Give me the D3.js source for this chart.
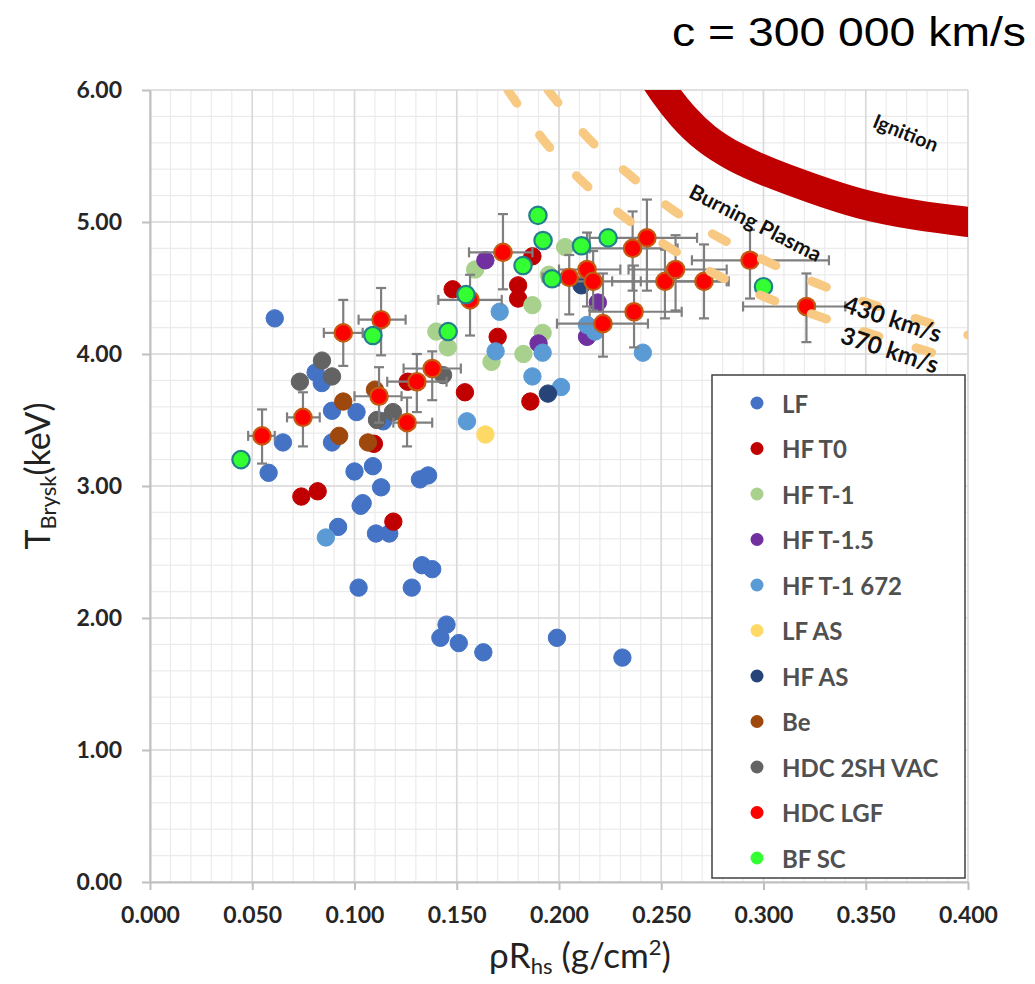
<!DOCTYPE html>
<html>
<head>
<meta charset="utf-8">
<script src="https://cdn.jsdelivr.net/npm/d3@7"></script>
<style>
  body { margin: 0; background: #fff; }
  svg { display: block; }
</style>
</head>
<body>
<svg id="chart" width="1035" height="984"></svg>
<script>
// ---- data ----
var seriesNames = ["LF", "HF T0", "HF T-1", "HF T-1.5", "HF T-1 672", "LF AS", "HF AS", "Be", "HDC 2SH VAC", "HDC LGF", "BF SC"];
var seriesFill = ["#4472c4", "#c00000", "#a9d18e", "#7030a0", "#5b9bd5", "#ffd966", "#264478", "#9e480e", "#636363", "#ff0000", "#33ff33"];

var lf = [[0.061,4.27],[0.081,3.86],[0.084,3.78],[0.089,3.57],[0.089,3.33],[0.065,3.33],[0.058,3.10],
  [0.101,3.56],[0.114,3.49],[0.100,3.11],[0.109,3.15],[0.113,2.99],[0.103,2.85],[0.104,2.87],
  [0.092,2.69],[0.1105,2.64],[0.117,2.64],[0.102,2.23],[0.128,2.23],[0.133,2.40],[0.138,2.37],
  [0.132,3.05],[0.136,3.08],[0.145,1.95],[0.142,1.85],[0.151,1.81],[0.163,1.74],[0.199,1.85],[0.231,1.70]];
var hfT0 = [[0.074,2.92],[0.082,2.96],[0.119,2.73],[0.1095,3.32],[0.126,3.79],[0.154,3.71],[0.186,3.64],
  [0.170,4.13],[0.180,4.42],[0.180,4.52],[0.148,4.49],[0.187,4.74]];
var hfT1 = [[0.159,4.64],[0.187,4.37],[0.140,4.17],[0.1456,4.05],[0.192,4.16],[0.167,3.94],[0.1826,4.00],
  [0.203,4.81],[0.195,4.60]];
var hfT15 = [[0.164,4.71],[0.190,4.08],[0.219,4.39],[0.2137,4.13]];
var hfT1672 = [[0.171,4.32],[0.169,4.02],[0.192,4.01],[0.187,3.83],[0.201,3.75],[0.155,3.49],[0.086,2.61],
  [0.2137,4.22],[0.2176,4.17],[0.241,4.01]];
var lfAS = [[0.164,3.39]];
var hfAS = [[0.1946,3.70],[0.211,4.52]];
var be = [[0.0945,3.64],[0.110,3.73],[0.0925,3.38],[0.1066,3.33]];
var hdc2sh = [[0.0841,3.95],[0.0733,3.79],[0.089,3.83],[0.1433,3.84],[0.111,3.50],[0.1188,3.56]];
// HDC LGF: x, y, x low, x high, y low, y high
var hdcLgf = [
  [0.0548,3.38,0.048,0.061,3.17,3.58],[0.0748,3.52,0.067,0.083,3.30,3.71],
  [0.0945,4.16,0.085,0.104,3.91,4.41],[0.113,4.26,0.102,0.125,3.99,4.50],
  [0.112,3.68,0.100,0.123,3.48,3.90],[0.1257,3.48,0.119,0.138,3.30,3.67],
  [0.1305,3.79,0.116,0.145,3.56,4.00],[0.138,3.89,0.124,0.152,3.65,4.02],
  [0.1565,4.41,0.141,0.172,4.14,4.60],[0.1726,4.77,0.156,0.187,4.49,5.06],
  [0.205,4.58,0.192,0.216,4.30,4.75],[0.2137,4.64,0.200,0.230,4.36,4.92],
  [0.2167,4.55,0.200,0.240,4.33,4.78],[0.2215,4.23,0.199,0.2435,3.98,4.61],
  [0.236,4.80,0.215,0.258,4.48,5.08],[0.243,4.88,0.215,0.2675,4.48,5.17],
  [0.2367,4.32,0.215,0.260,4.05,4.67],[0.2518,4.55,0.226,0.283,4.27,4.79],
  [0.257,4.64,0.234,0.282,4.33,4.90],[0.2709,4.55,0.243,0.282,4.27,4.83],
  [0.2934,4.71,0.265,0.332,4.42,4.94],[0.321,4.36,0.290,0.340,4.09,4.61]];
var bfSc = [[0.0445,3.20],[0.109,4.14],[0.1458,4.17],[0.1545,4.45],[0.1897,5.05],[0.1922,4.86],
  [0.1824,4.67],[0.1966,4.57],[0.211,4.82],[0.224,4.88],[0.300,4.51]];

var curve430 = [[0.1946,6.0],[0.2156,5.614],[0.2352,5.348],[0.2557,5.091],[0.2787,4.879],[0.3022,4.697],
  [0.3257,4.538],[0.3511,4.386],[0.3765,4.258],[0.400,4.144]];
var curve370 = [[0.175,6.0],[0.1936,5.598],[0.2122,5.295],[0.2318,5.038],[0.2543,4.803],[0.2763,4.606],
  [0.3007,4.432],[0.3252,4.295],[0.3619,4.106],[0.400,3.932]];
var ignition = [[0.2455,6.12],[0.2504,6.0],[0.2601,5.80],[0.2714,5.63],[0.2856,5.49],[0.3032,5.37],
  [0.3227,5.26],[0.3472,5.13],[0.3741,5.05],[0.400,5.0],[0.41,4.985]];

var xTicks = [0, 0.05, 0.1, 0.15, 0.2, 0.25, 0.3, 0.35, 0.4];
var yTicks = [0, 1, 2, 3, 4, 5, 6];

// ---- drawing ----
var svg = d3.select("#chart");
var plotL = 150, plotR = 968, plotT = 90, plotB = 882;

var x = d3.scaleLinear().domain([0, 0.4]).range([plotL, plotR]);
var y = d3.scaleLinear().domain([0, 6]).range([plotB, plotT]);

svg.append("defs").append("clipPath").attr("id", "plotClip")
  .append("rect").attr("x", plotL).attr("y", plotT).attr("width", plotR - plotL).attr("height", plotB - plotT);

// minor grid
var grid = svg.append("g");
grid.selectAll(".vmin").data(d3.range(0, 41).map(function(i){ return i / 100; }))
  .enter().append("line")
  .attr("x1", function(d){ return x(d); }).attr("x2", function(d){ return x(d); })
  .attr("y1", plotT).attr("y2", plotB)
  .attr("stroke", "#ebebeb").attr("stroke-width", 1.2);
grid.selectAll(".hmin").data(d3.range(0, 31).map(function(i){ return i * 0.2; }))
  .enter().append("line")
  .attr("y1", function(d){ return y(d); }).attr("y2", function(d){ return y(d); })
  .attr("x1", plotL).attr("x2", plotR)
  .attr("stroke", "#ebebeb").attr("stroke-width", 1.2);
// major grid
grid.selectAll(".vmaj").data(xTicks).enter().append("line")
  .attr("x1", function(d){ return x(d); }).attr("x2", function(d){ return x(d); })
  .attr("y1", plotT).attr("y2", plotB)
  .attr("stroke", "#d9d9d9").attr("stroke-width", 1.6);
grid.selectAll(".hmaj").data(yTicks).enter().append("line")
  .attr("y1", function(d){ return y(d); }).attr("y2", function(d){ return y(d); })
  .attr("x1", plotL).attr("x2", plotR)
  .attr("stroke", "#d9d9d9").attr("stroke-width", 1.6);

// axes
var xAxis = svg.append("g").attr("transform", "translate(0," + plotB + ")")
  .call(d3.axisBottom(x).tickValues(xTicks).tickFormat(d3.format(".3f")).tickSize(8).tickSizeOuter(0).tickPadding(17));
var yAxis = svg.append("g").attr("transform", "translate(" + plotL + ",0)")
  .call(d3.axisLeft(y).tickValues(yTicks).tickFormat(d3.format(".2f")).tickSize(8).tickSizeOuter(0).tickPadding(20));
[xAxis, yAxis].forEach(function(g){
  g.select(".domain").attr("stroke", "#bfbfbf").attr("stroke-width", 2);
  g.selectAll(".tick line").attr("stroke", "#bfbfbf").attr("stroke-width", 2);
  g.selectAll(".tick text").attr("font-family", "Lato, 'Open Sans', sans-serif")
    .attr("font-size", 23).attr("font-weight", "bold").attr("fill", "#262626");
});

// points
var plot = svg.append("g");
function drawSeries(data, fill, stroke, sw) {
  plot.append("g").selectAll("circle").data(data).enter().append("circle")
    .attr("cx", function(d){ return x(d[0]); })
    .attr("cy", function(d){ return y(d[1]); })
    .attr("r", 8.7)
    .attr("fill", fill)
    .attr("stroke", stroke).attr("stroke-width", sw);
}
drawSeries(lf, seriesFill[0], seriesFill[0], 1);
drawSeries(hfT0, seriesFill[1], seriesFill[1], 1);
drawSeries(hfT1, seriesFill[2], seriesFill[2], 1);
drawSeries(hfT15, seriesFill[3], seriesFill[3], 1);
drawSeries(hfT1672, seriesFill[4], seriesFill[4], 1);
drawSeries(lfAS, seriesFill[5], seriesFill[5], 1);
drawSeries(hfAS, seriesFill[6], seriesFill[6], 1);
drawSeries(be, seriesFill[7], seriesFill[7], 1);
drawSeries(hdc2sh, seriesFill[8], seriesFill[8], 1);

// error bars for HDC LGF
var err = plot.append("g").attr("stroke", "#7f7f7f").attr("stroke-width", 2.2);
hdcLgf.forEach(function(d){
  err.append("line").attr("x1", x(d[2])).attr("x2", x(d[3])).attr("y1", y(d[1])).attr("y2", y(d[1]));
  err.append("line").attr("x1", x(d[0])).attr("x2", x(d[0])).attr("y1", y(d[4])).attr("y2", y(d[5]));
  [d[2], d[3]].forEach(function(v){
    err.append("line").attr("x1", x(v)).attr("x2", x(v)).attr("y1", y(d[1]) - 5).attr("y2", y(d[1]) + 5);
  });
  [d[4], d[5]].forEach(function(v){
    err.append("line").attr("x1", x(d[0]) - 5).attr("x2", x(d[0]) + 5).attr("y1", y(v)).attr("y2", y(v));
  });
});
drawSeries(hdcLgf, seriesFill[9], "#c55a11", 2.2);
drawSeries(bfSc, seriesFill[10], "#23808a", 2.2);

// curves
var line = d3.line().x(function(d){ return x(d[0]); }).y(function(d){ return y(d[1]); }).curve(d3.curveCatmullRom);
var curves = svg.append("g").attr("clip-path", "url(#plotClip)");
curves.append("path").attr("d", line.curve(d3.curveBasis)(ignition)).attr("fill", "none")
  .attr("stroke", "#c00000").attr("stroke-width", 30);
line.curve(d3.curveCatmullRom);
[curve430, curve370].forEach(function(c){
  curves.append("path").attr("d", line(c)).attr("fill", "none")
    .attr("stroke", "#f7c982").attr("stroke-width", 9).attr("stroke-linecap", "round")
    .attr("stroke-dasharray", "16,39");
});

// annotations
var notes = [
  { text: "Ignition", cx: 906, cy: 132, a: 22, size: 20 },
  { text: "Burning Plasma", cx: 756, cy: 222, a: 27, size: 21 },
  { text: "430 km/s", cx: 893, cy: 318, a: 18, size: 24 },
  { text: "370 km/s", cx: 890, cy: 349, a: 18, size: 24 }
];
svg.append("g").selectAll("text").data(notes).enter().append("text")
  .attr("transform", function(d){ return "translate(" + d.cx + "," + d.cy + ") rotate(" + d.a + ")"; })
  .attr("text-anchor", "middle").attr("dominant-baseline", "central")
  .attr("font-family", "Lato, 'Open Sans', sans-serif").attr("font-weight", "bold")
  .attr("font-size", function(d){ return d.size; }).attr("fill", "#111")
  .text(function(d){ return d.text; });

// legend
var legend = svg.append("g");
legend.append("rect").attr("x", 712).attr("y", 375).attr("width", 253).attr("height", 503)
  .attr("fill", "#fff").attr("stroke", "#404040").attr("stroke-width", 1.5);
var item = legend.selectAll(".item").data(seriesNames).enter().append("g")
  .attr("transform", function(d, i){ return "translate(757," + (403 + i * 45.5) + ")"; });
item.append("circle").attr("r", 6.5).attr("fill", function(d, i){ return seriesFill[i]; });
item.append("text").attr("x", 25).attr("dominant-baseline", "central")
  .attr("font-family", "Lato, 'Open Sans', sans-serif").attr("font-weight", "bold")
  .attr("font-size", 24).attr("fill", "#505050")
  .text(function(d){ return d; });

// axis titles
var xt = svg.append("text").attr("x", 580).attr("y", 968).attr("text-anchor", "middle")
  .attr("font-family", "Lato, 'Open Sans', sans-serif").attr("font-size", 35).attr("fill", "#222");
xt.append("tspan").text("ρR");
xt.append("tspan").attr("font-size", 22).attr("dy", 6).text("hs");
xt.append("tspan").attr("dy", -6).text(" (g/cm");
xt.append("tspan").attr("font-size", 22).attr("dy", -13).text("2");
xt.append("tspan").attr("dy", 13).text(")");

var yt = svg.append("text").attr("transform", "translate(50,476) rotate(-90)").attr("text-anchor", "middle")
  .attr("font-family", "Lato, 'Open Sans', sans-serif").attr("font-size", 34).attr("fill", "#222");
yt.append("tspan").text("T");
yt.append("tspan").attr("font-size", 22).attr("dy", 6).text("Brysk");
yt.append("tspan").attr("dy", -6).text("(keV)");

svg.append("text").attr("transform", "translate(1026,46) scale(1.13,1)").attr("text-anchor", "end")
  .attr("font-family", "'Liberation Sans', Arial, sans-serif").attr("font-size", 41).attr("fill", "#000")
  .text("c = 300 000 km/s");
</script>
</body>
</html>
